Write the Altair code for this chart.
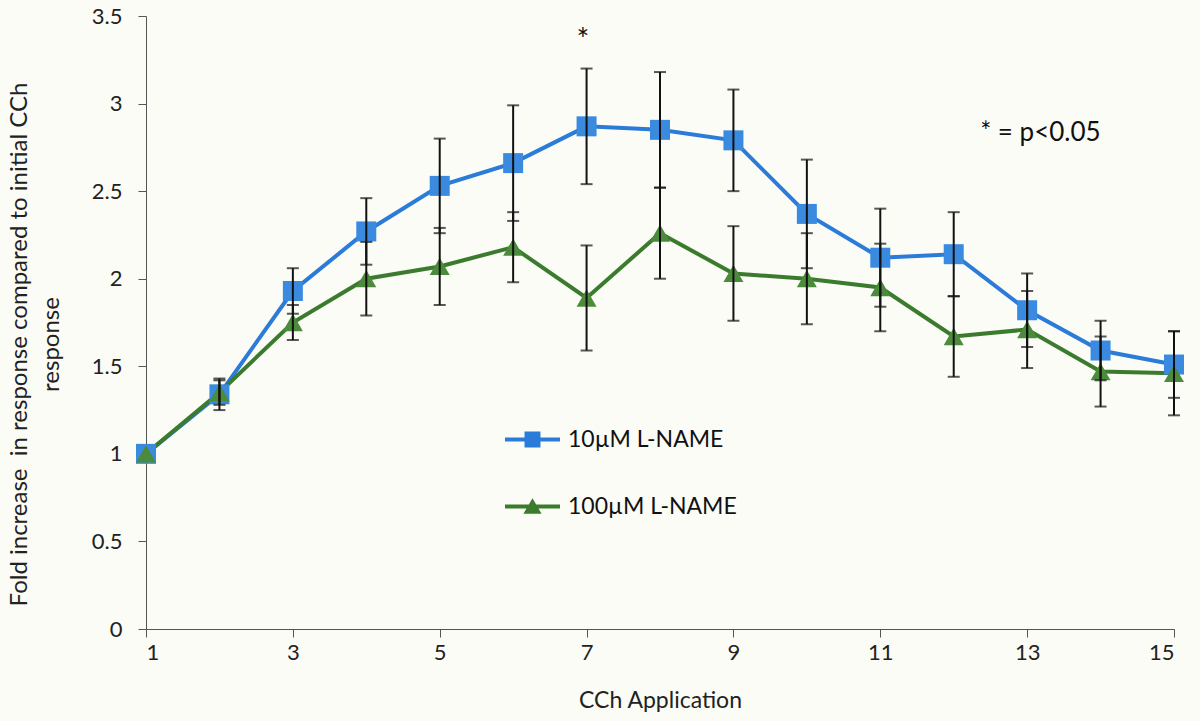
import altair as alt
import pandas as pd

# ---- data ----
applications = list(range(1, 16))
series_names = ["10µM L-NAME", "100µM L-NAME"]

blue_mean = [1.00, 1.34, 1.93, 2.27, 2.53, 2.66, 2.87, 2.85, 2.79, 2.37, 2.12, 2.14, 1.82, 1.59, 1.51]
blue_err = [0.00, 0.09, 0.13, 0.19, 0.27, 0.33, 0.33, 0.33, 0.29, 0.31, 0.28, 0.24, 0.21, 0.17, 0.19]

green_mean = [1.00, 1.35, 1.75, 2.00, 2.07, 2.18, 1.89, 2.26, 2.03, 2.00, 1.95, 1.67, 1.71, 1.47, 1.46]
green_err = [0.00, 0.07, 0.10, 0.21, 0.22, 0.20, 0.30, 0.26, 0.27, 0.26, 0.25, 0.23, 0.22, 0.20, 0.24]

x_tick_values = [1, 3, 5, 7, 9, 11, 13, 15]
y_tick_values = [0, 0.5, 1, 1.5, 2, 2.5, 3, 3.5]

annot_text = ["*", "* = p<0.05"]
annot_x = [6.95, 13.18]
annot_y = [3.38, 2.83]

line_colors = ["#2b7bd8", "#3b7b2d"]
marker_colors = ["#3a8ae0", "#4b8b3b"]
FONT = "Lato"

rows = []
for name, means, errs in [(series_names[0], blue_mean, blue_err), (series_names[1], green_mean, green_err)]:
    for a, m, e in zip(applications, means, errs):
        rows.append({"app": a, "value": m, "lo": m - e, "hi": m + e, "series": name})
df = pd.DataFrame(rows)
err_df = df[df["hi"] > df["lo"]]

annot_df = pd.DataFrame({"x": annot_x, "y": annot_y, "text": annot_text})
legend_df = pd.DataFrame({"app": pd.Series([], dtype=float), "value": pd.Series([], dtype=float),
                          "legend": pd.Series([], dtype=str)})

x_scale = alt.Scale(domain=[1, 15], nice=False, zero=False)
y_scale = alt.Scale(domain=[0, 3.5], nice=False)

X_TITLE = "CCh Application"
Y_TITLE = ["Fold increase\u00a0 in response compared to initial CCh", "response"]

common_axis = dict(grid=False, tickSize=8, labelFontSize=22, labelColor="#222222", labelFont=FONT,
                   titleColor="#222222", titleFontWeight="normal", titleFont=FONT,
                   domainColor="#555555", tickColor="#555555")

x_axis = alt.Axis(values=x_tick_values, format="d", title=X_TITLE, labelPadding=5, titlePadding=26,
                  titleFontSize=23, **common_axis)
y_axis = alt.Axis(values=y_tick_values, format="~g", title=Y_TITLE, labelPadding=16, titlePadding=28,
                  titleY=328, titleFontSize=24, titleLineHeight=32, **common_axis)


def xq(field):
    return alt.X(field, type="quantitative", scale=x_scale, axis=x_axis, title=X_TITLE)


def yq(field):
    return alt.Y(field, type="quantitative", scale=y_scale, axis=y_axis, title=Y_TITLE)


color_scale = alt.Scale(domain=series_names, range=line_colors)

base = alt.Chart(df)

lines = base.mark_line(strokeWidth=4).encode(
    x=xq("app"), y=yq("value"),
    color=alt.Color("series:N", scale=color_scale, legend=None),
    detail="series:N",
)

points = base.mark_point(filled=True, opacity=1, size=400, strokeWidth=1.2).encode(
    x=xq("app"), y=yq("value"),
    color=alt.Color("series:N", scale=alt.Scale(domain=series_names, range=marker_colors), legend=None),
    shape=alt.Shape("series:N", scale=alt.Scale(domain=series_names, range=["square", "triangle-up"]),
                    legend=None),
)

errbars = alt.Chart(err_df).mark_errorbar(ticks=True, thickness=2, size=12, color="#111111").encode(
    x=xq("app"), y=yq("lo"), y2="hi:Q",
)

star = alt.Chart(annot_df).transform_filter(alt.datum.text == "*").mark_text(
    fontSize=30, font=FONT, color="#111111", baseline="middle", align="center", dy=4
).encode(x=xq("x"), y=yq("y"), text="text:N")

note = alt.Chart(annot_df).transform_filter(alt.datum.text != "*").mark_text(
    fontSize=26, font=FONT, color="#111111", baseline="middle", align="center"
).encode(x=xq("x"), y=yq("y"), text="text:N")

square_path = "M-1,-0.07H1V0.07H-1Z M-0.29,-0.29H0.29V0.29H-0.29Z"
tri_path = "M-1,-0.07H1V0.07H-1Z M-0.33,0.26L0,-0.3L0.33,0.26Z"

legend_layer = alt.Chart(legend_df).mark_point(filled=True, opacity=1, strokeWidth=0).encode(
    x=xq("app"), y=yq("value"),
    color=alt.Color("legend:N", scale=alt.Scale(domain=series_names, range=line_colors),
                    legend=alt.Legend(title=None, orient="none", legendX=359, legendY=396,
                                      symbolSize=3025, rowPadding=27, labelFontSize=23,
                                      labelFont=FONT, labelColor="#111111", labelOffset=8,
                                      labelLimit=400, padding=0, symbolStrokeWidth=0)),
    shape=alt.Shape("legend:N", scale=alt.Scale(domain=series_names, range=[square_path, tri_path])),
)

chart = alt.layer(lines, points, errbars, star, note, legend_layer).resolve_scale(
    color="independent", shape="independent"
).properties(
    width=1028, height=613,
    autosize=alt.AutoSizeParams(type="none"),
    padding={"left": 146, "top": 16, "right": 26, "bottom": 92},
    background="#fcfcf7",
).configure_view(stroke=None)

chart.save("out.html", embed_options={"renderer": "svg", "actions": False})
